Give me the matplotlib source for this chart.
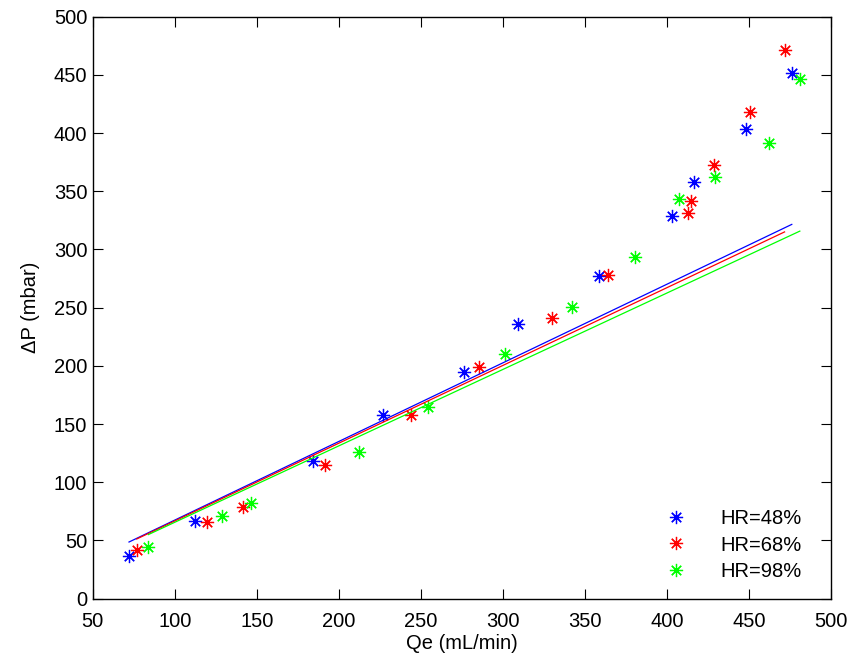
import matplotlib
matplotlib.use("Agg")
import matplotlib.pyplot as plt
import numpy as np

plt.rcParams['font.family'] = ['Liberation Sans', 'DejaVu Sans']

blue_q = [72.1, 112.3, 184.2, 227.1, 276.3, 309.4, 358.7, 403.0, 416.4, 448.0, 476.1]
blue_p = [36.9, 66.8, 118.6, 157.5, 194.8, 235.7, 277.2, 329.0, 358.0, 403.8, 451.9]
red_q = [76.8, 119.7, 141.4, 191.4, 244.0, 285.4, 330.1, 364.0, 412.8, 414.8, 428.6, 450.5, 471.7]
red_p = [41.8, 66.2, 78.5, 114.6, 157.6, 199.3, 241.2, 277.8, 331.0, 341.9, 372.3, 418.1, 471.3]
green_q = [83.9, 128.8, 146.3, 212.1, 254.1, 301.0, 342.1, 380.7, 407.1, 429.0, 462.0, 481.0]
green_p = [44.2, 71.0, 82.0, 125.8, 165.0, 210.2, 250.9, 293.8, 343.1, 362.0, 391.8, 446.2]
slopes = [0.6754, 0.668, 0.6565]
labels = ['HR=48%', 'HR=68%', 'HR=98%']
colors = ['#0000ff', '#ff0000', '#00ff00']

fig = plt.figure(figsize=(8.51, 6.59), dpi=100)
ax = fig.add_axes([0.109, 0.0915, 0.8675, 0.8832])

series = [(blue_q, blue_p), (red_q, red_p), (green_q, green_p)]
handles = []
for (q, p), k, c, lab in zip(series, slopes, colors, labels):
    h, = ax.plot(q, p, linestyle='none', marker=(8, 2, 0), markersize=9.5,
                 markeredgewidth=0.9, color=c, label=lab)
    handles.append(h)
for (q, p), k, c in zip(series, slopes, colors):
    xs = np.array([min(q), max(q)])
    ax.plot(xs, k * xs, color=c, linewidth=0.9)

ax.set_xlim(50, 500)
ax.set_ylim(0, 500)
ax.set_xticks(np.arange(50, 501, 50))
ax.set_yticks(np.arange(0, 501, 50))
ax.tick_params(direction='in', length=7, width=0.8, labelsize=14.5,
               top=True, right=True)
ax.tick_params(axis='x', pad=9.5)
ax.tick_params(axis='y', pad=4)
for s in ax.spines.values():
    s.set_linewidth(1.0)
ax.set_xlabel('Qe (mL/min)', fontsize=14.5, labelpad=2)
ax.set_ylabel('ΔP (mbar)', fontsize=14.5, labelpad=10)

leg = ax.legend(handles=handles, loc='lower right', frameon=False, fontsize=14.5,
                handlelength=2.0, handletextpad=1.2, labelspacing=0.35,
                bbox_to_anchor=(0.985, 0.0))

fig.savefig('out.png', dpi=100)
